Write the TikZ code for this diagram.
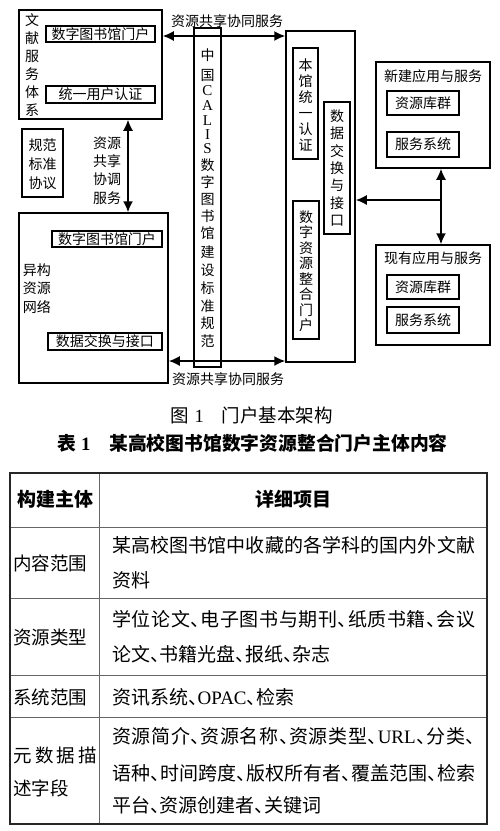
\documentclass[tikz,border=0pt]{standalone}
\usepackage{fontspec}
\setmainfont{Noto Sans CJK SC}
\newfontfamily\lat{Liberation Serif}
\newfontfamily\tabfont{Noto Sans CJK SC}[CharacterWidth=AlternateHalf]
\usetikzlibrary{arrows.meta}
\def\jfillA#1{#1\jfillB}
\def\jfillB#1{\ifx\relax#1\else\hfil#1\expandafter\jfillB\fi}
\begin{document}
\begin{tikzpicture}[x=1pt,y=-1pt,
  box/.style={draw, line width=1.5pt, inner sep=0pt},
  vtext/.style={align=center, inner sep=0pt, font=\fontsize{14}{18}\selectfont},
  ltext/.style={inner sep=0pt, font=\fontsize{14}{17}\selectfont},
  arr/.style={line width=1.6pt, {Latex[length=11pt,width=10pt]}-{Latex[length=11pt,width=10pt]}},
  arrone/.style={line width=1.6pt, -{Latex[length=11pt,width=10pt]}},
  tab/.style={inner sep=0pt, font=\tabfont\fontsize{19}{22}\selectfont, anchor=west},
  tablab/.style={inner sep=0pt, font=\tabfont\fontsize{18.5}{22}\selectfont, anchor=west},
  tabhead/.style={inner sep=0pt, font=\bfseries\fontsize{19}{22}\selectfont},
  outer/.style={draw=black!85, line width=1.8pt},
  inner/.style={draw=black!60, line width=1pt}]
\useasboundingbox (0,0) rectangle (500,831);

% ---------- left top box
\node[box, minimum width=143pt, minimum height=109pt] (A) at (90.5,64.5) {};
\node[vtext] (At) at (32,65) {文\\献\\服\\务\\体\\系};
\node[box, minimum width=109pt, minimum height=16pt, ltext] (A1) at (100.5,34) {数字图书馆门户};
\node[box, minimum width=109pt, minimum height=17pt, ltext] (A2) at (100.5,94.5) {统一用户认证};

% ---------- norm box
\node[box, minimum width=41pt, minimum height=68pt] (N) at (42.5,163) {};
\node[vtext, font=\fontsize{14}{19}\selectfont] (Nt) at (42.5,164) {规范\\标准\\协议};

% ---------- vertical arrow label
\node[vtext, font=\fontsize{14}{18.3}\selectfont] (Vt) at (107,170.5) {资源\\共享\\协调\\服务};

% ---------- lower left box
\node[box, minimum width=149pt, minimum height=170pt] (B) at (93.5,298) {};
\node[vtext, font=\fontsize{14}{18.5}\selectfont] (Bt) at (37,288.5) {异构\\资源\\网络};
\node[box, minimum width=110pt, minimum height=16pt, ltext] (B1) at (107,239) {数字图书馆门户};
\node[box, minimum width=114pt, minimum height=17pt, ltext] (B2) at (105,341.5) {数据交换与接口};

% ---------- CALIS box
\node[box, minimum width=27pt, minimum height=339pt] (C) at (207.5,197.5) {};
\foreach \t/\yy [count=\i] in {中/55,国/75,{\lat\fontsize{15}{15}\selectfont C}/91,{\lat\fontsize{15}{15}\selectfont A}/106,{\lat\fontsize{15}{15}\selectfont L}/121,{\lat\fontsize{15}{15}\selectfont I}/135,{\lat\fontsize{15}{15}\selectfont S}/149,数/165,字/182,图/199,书/216,馆/233,建/252,设/270,标/288,准/306,规/323,范/341}
  \node[ltext, font=\fontsize{14}{17}\selectfont] (cal\i) at (207.5,\yy) {\t};

% ---------- right tall box
\node[box, minimum width=69pt, minimum height=331pt] (R) at (320.5,196.5) {};
\node[box, minimum width=25pt, minimum height=111pt] (R1) at (305.5,103.5) {};
\node[vtext, font=\fontsize{14}{16}\selectfont] (R1t) at (305.5,105) {本\\馆\\统\\一\\认\\证};
\node[box, minimum width=26pt, minimum height=132pt] (R2) at (337,168) {};
\node[vtext, font=\fontsize{14}{17.3}\selectfont] (R2t) at (337,168) {数\\据\\交\\换\\与\\接\\口};
\node[box, minimum width=26pt, minimum height=138pt] (R3) at (306,270) {};
\node[vtext, font=\fontsize{14}{15.5}\selectfont] (R3t) at (306,271) {数\\字\\资\\源\\整\\合\\门\\户};

% ---------- right boxes
\node[box, minimum width=114pt, minimum height=106pt] (P) at (433,115) {};
\node[ltext] (Pt) at (433,76) {新建应用与服务};
\node[box, minimum width=72pt, minimum height=24pt, ltext] (P1) at (423,103) {资源库群};
\node[box, minimum width=72pt, minimum height=25pt, ltext] (P2) at (423,144.5) {服务系统};

\node[box, minimum width=114pt, minimum height=100pt] (Q) at (433,295) {};
\node[ltext] (Qt) at (433,258) {现有应用与服务};
\node[box, minimum width=72pt, minimum height=24pt, ltext] (Q1) at (423,287) {资源库群};
\node[box, minimum width=72pt, minimum height=26pt, ltext] (Q2) at (423,320) {服务系统};

% ---------- connectors
\coordinate (ty) at (0,36);
\coordinate (by) at (0,361);
\coordinate (vx) at (128,0);
\coordinate (J) at (441,200);
\draw[arr] (A.east |- ty) -- (R.west |- ty);
\node[ltext] (Lt) at (227,21) {资源共享协同服务};
\draw[arr] (B.east |- by) -- (R.west |- by);
\node[ltext] (Lb) at (228,379) {资源共享协同服务};
\draw[arr] (A.south -| vx) -- (B.north -| vx);
\draw[arrone] (J) -- (R.east |- J);
\draw[arrone] (J) -- (P.south -| J);
\draw[arrone] (J) -- (Q.north -| J);

% ---------- captions
\node[inner sep=0pt, anchor=west, font=\fontsize{18.5}{22}\selectfont] (cap1) at (170,415) {图\hspace{6pt}{\lat 1}\hspace{18pt}门户基本架构};
\node[inner sep=0pt, anchor=west, font=\bfseries\fontsize{18.8}{22}\selectfont] (cap2) at (57,443) {表\hspace{5pt}{\lat\bfseries 1}\hspace{19pt}某高校图书馆数字资源整合门户主体内容};

% ---------- table
\coordinate (T1) at (10,473);
\coordinate (T2) at (487,824);
\coordinate (cx) at (99,0);
\draw[inner] (T1 -| cx) -- (T2 -| cx);
\foreach \yy/\n in {527/h1,598/h2,675/h3,717/h4} {
  \coordinate (\n) at (0,\yy);
  \draw[inner] (T1 |- \n) -- (T2 |- \n);
}
\draw[outer] (T1) rectangle (T2);

\node[tabhead] (th1) at (55,499) {构建主体};
\node[tabhead] (th2) at (293,499) {详细项目};

\node[tablab] (l1) at (13,563) {内容范围};
\node[tablab] (l2) at (13,637) {资源类型};
\node[tablab] (l3) at (13,697) {系统范围};
\node[tablab] (l4a) at (13,755) {\makebox[84pt][s]{\jfillA 元数据描\relax}};
\node[tablab] (l4b) at (13,788) {述字段};

\node[tab] (r1a) at (112,545) {\makebox[363pt][s]{\jfillA 某高校图书馆中收藏的各学科的国内外文献\relax}};
\node[tab] (r1b) at (112,580) {资料};
\node[tab] (r2a) at (112,619) {\makebox[363pt][s]{\jfillA 学位论文、电子图书与期刊、纸质书籍、会议\relax}};
\node[tab] (r2b) at (112,654) {论文、书籍光盘、报纸、杂志};
\node[tab] (r3) at (112,697) {资讯系统、{\lat OPAC}、检索};
\node[tab] (r4a) at (112,736) {\makebox[363pt][s]{\jfillA 资源简介、资源名称、资源类型、{{\lat URL}}、分类、\relax}};
\node[tab] (r4b) at (112,773) {\makebox[363pt][s]{\jfillA 语种、时间跨度、版权所有者、覆盖范围、检索\relax}};
\node[tab] (r4c) at (112,805) {平台、资源创建者、关键词};
\end{tikzpicture}
\end{document}
